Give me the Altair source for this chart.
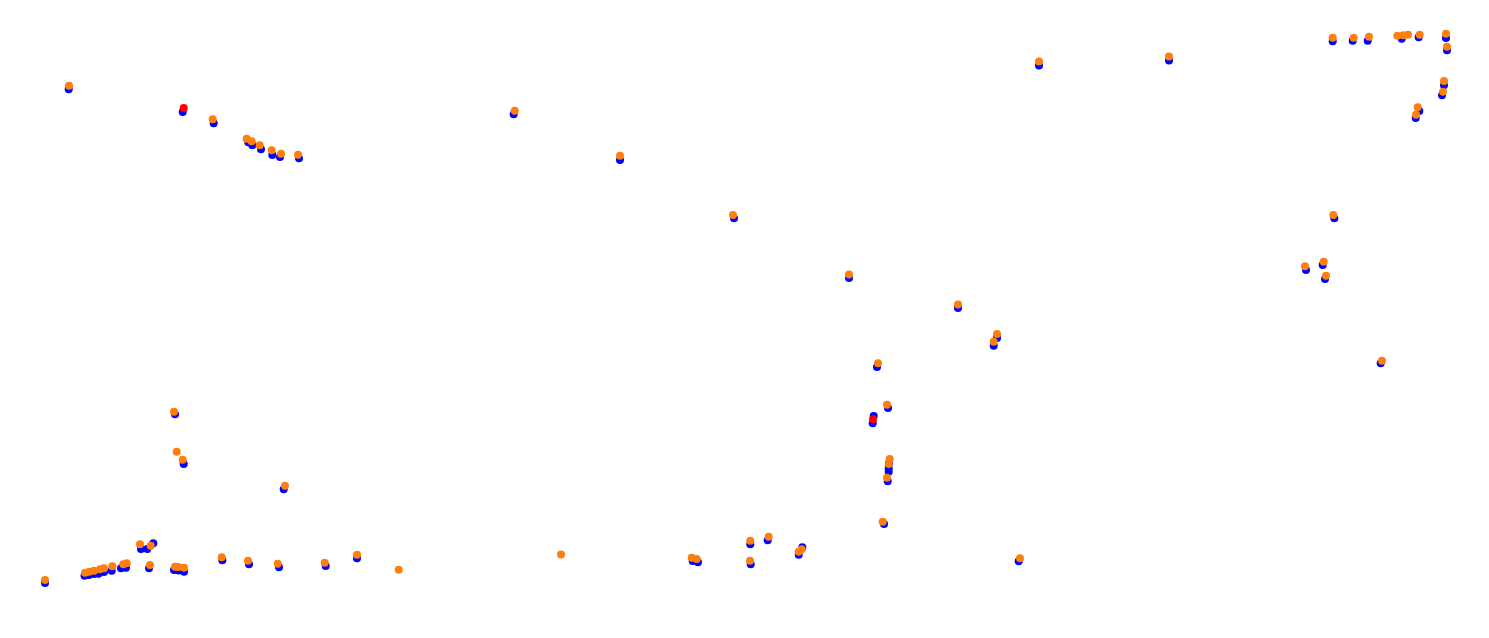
import altair as alt
import pandas as pd

# Series values (x, y)
blue_x = [45, 84.5, 89, 94, 98.5, 104, 111.7, 121, 126, 141, 147.3, 153.3, 149, 174, 178.5, 184,
          222.3, 249, 279, 325.7, 357, 175, 183.7, 283.7, 68.7, 182.7, 213.7, 248.3, 252.3, 261,
          272.3, 280, 299, 513.7, 620, 734, 849, 958, 993.7, 997, 1039, 1169,
          1332.7, 1352.7, 1367.7, 1401.7, 1418.7, 1446, 1447, 1444, 1442, 1419.3, 1415.7,
          1334.3, 1306, 1322.7, 1325, 1380.7, 877, 888, 873.7, 872.7,
          889, 888.7, 888.7, 887.7, 884, 692.7, 698, 750.3, 767.7, 750.7, 798.7, 802.3, 1018.7]
blue_y = [55, 62.3, 63, 64, 64.3, 66, 67.3, 69.7, 70.3, 89, 89, 94.7, 69.7, 68, 67.5, 66.3,
          77.7, 73.7, 70.7, 72, 79.7, 223.7, 174, 148.7, 548.7, 526, 514.7, 495.7, 492.7, 488.7,
          483, 481, 479.7, 523.7, 478, 419.7, 360, 330, 292.3, 300, 572.5, 577.5,
          596.7, 597.3, 597.3, 599.3, 600.7, 600, 587.7, 552.7, 542.7, 527, 520,
          419.7, 368, 373, 359, 274.7, 271, 230, 222, 214.7,
          175, 169.7, 166.3, 156.7, 114, 77, 75.7, 93.7, 97.7, 73.7, 83.3, 90.7, 76.7]

orange_x = [1, 45, 85, 89.3, 94, 100, 104, 112.3, 123.3, 126.7, 140, 150.7, 150, 175, 178.3, 184,
            221.7, 248, 277.7, 324.7, 357, 398.7, 174, 176.7, 182.7, 285, 561, 69,
            212.7, 246.7, 251.7, 259.7, 271.7, 281, 298, 514.7, 620, 733, 849, 958, 993.7, 997,
            1039, 1169, 1332.7, 1353.7, 1369, 1397.3, 1403.3, 1408, 1419.7, 1446, 1447, 1444, 1443,
            1417.7, 1416, 1333.3, 1305, 1323.7, 1326, 1382, 878, 887, 889.7, 888.7, 887, 882.7,
            691.7, 696.7, 750.3, 768.7, 750, 798.7, 801.7, 1020]
orange_y = [171.3, 58, 65.3, 66.3, 67.3, 68.7, 69.7, 71.7, 73.7, 74.7, 93.7, 92.3, 73, 71.3, 71, 70.3,
            80.7, 77.3, 74.3, 75.3, 83.3, 68.3, 226.3, 186.3, 178.3, 152.3, 83.5, 552.3,
            518.7, 499.3, 496.7, 492.7, 487.7, 484.3, 483.3, 527.3, 482.3, 423, 363.5, 333.5, 296.3, 304,
            576.5, 581.5, 600.3, 600.3, 601.3, 602.3, 602.7, 603.3, 603.3, 604.3, 591.3, 557, 546.3,
            530.7, 523.3, 423, 371.7, 376.3, 362.3, 277.3, 274.7, 233.3, 179, 174, 160.3, 116.3,
            80.3, 79, 97.3, 101.3, 77.3, 86.3, 88.7, 79.7]

red_x = [183.7, 873]
red_y = [530, 218.7]

series_names = ["blue", "orange", "red"]
series_colors = ["#0000ff", "#ff7f0e", "#ff0000"]

frames = []
for name, xs, ys in [("blue", blue_x, blue_y), ("orange", orange_x, orange_y), ("red", red_x, red_y)]:
    frames.append(pd.DataFrame({"x": xs, "y": ys, "series": name}))

xs = alt.X("x:Q", scale=alt.Scale(domain=[8, 1481], nice=False, zero=False), axis=None)
ys = alt.Y("y:Q", scale=alt.Scale(domain=[8, 630], nice=False, zero=False), axis=None)

layers = []
for df, name, col in zip(frames, series_names, series_colors):
    layers.append(
        alt.Chart(df).mark_circle(size=64, opacity=1, color=col, clip=False).encode(x=xs, y=ys)
    )

chart = alt.layer(*layers).properties(
    width=1473, height=622, padding=0, autosize=alt.AutoSizeParams(type="none")
).configure_view(stroke=None)

chart.save("out.html", embed_options={"renderer": "svg", "actions": False})
